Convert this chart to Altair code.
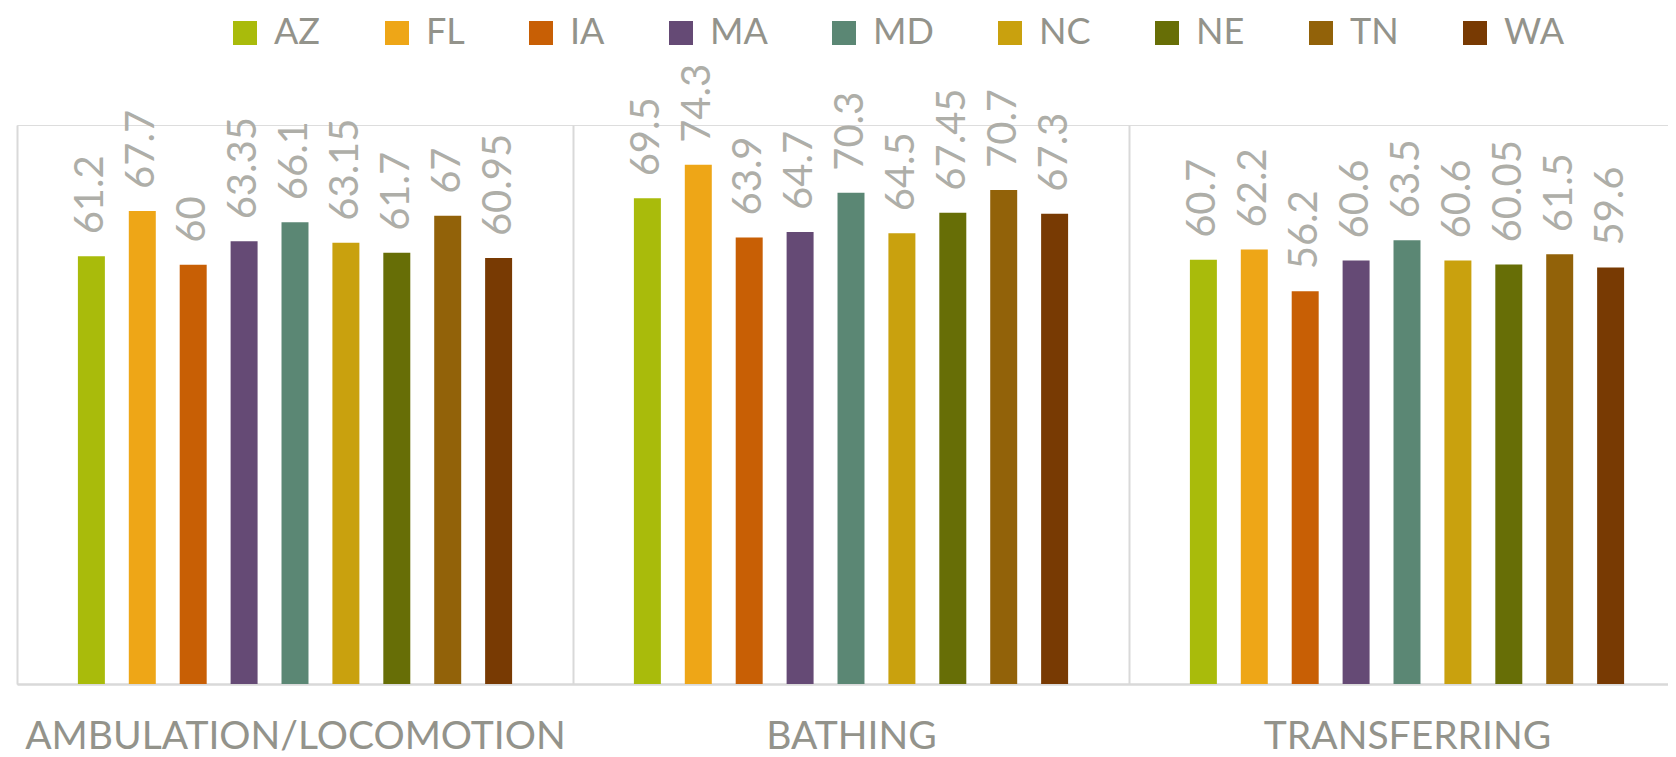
import altair as alt
import pandas as pd

categories = ["AMBULATION/LOCOMOTION", "BATHING", "TRANSFERRING"]
states = ["AZ", "FL", "IA", "MA", "MD", "NC", "NE", "TN", "WA"]
ambulation = [61.2, 67.7, 60, 63.35, 66.1, 63.15, 61.7, 67, 60.95]
bathing = [69.5, 74.3, 63.9, 64.7, 70.3, 64.5, 67.45, 70.7, 67.3]
transferring = [60.7, 62.2, 56.2, 60.6, 63.5, 60.6, 60.05, 61.5, 59.6]
colors = ["#A9BB0B", "#EEA617", "#C85F05", "#654A75", "#5B8774",
          "#C9A10E", "#676E06", "#926209", "#783A03"]

rows = []
for cat, vals in zip(categories, [ambulation, bathing, transferring]):
    for s, v in zip(states, vals):
        rows.append({"category": cat, "state": s, "value": v, "label": f"{v:g}"})
df = pd.DataFrame(rows)

FONT = "Lato"

x_enc = alt.X(
    "category:N", sort=categories,
    scale=alt.Scale(range=[0, 1668], paddingInner=0, paddingOuter=0),
    axis=alt.Axis(title=None, ticks=False, labelAngle=0, tickBand="extent",
                  grid=True, gridColor="#D9D9D9", gridWidth=2,
                  domainColor="#D9D9D9", domainWidth=2.5,
                  labelFont=FONT, labelFontSize=39, labelColor="#93938B",
                  labelBaseline="alphabetic", labelPadding=64, labelLimit=0),
)
xo_enc = alt.XOffset("state:N", sort=states,
                     scale=alt.Scale(range=[10, 546], paddingInner=0.47, paddingOuter=1.0))
y_enc = alt.Y("value:Q", scale=alt.Scale(domain=[0, 80]), axis=None)

bars = alt.Chart(df).mark_bar().encode(
    x=x_enc, xOffset=xo_enc, y=y_enc,
    color=alt.Color("state:N", sort=states,
                    scale=alt.Scale(domain=states, range=colors),
                    legend=alt.Legend(orient="none", legendX=210, legendY=-110,
                                      direction="horizontal", columns=9, title=None,
                                      symbolType="square", symbolSize=576,
                                      symbolStrokeWidth=0, labelFont=FONT,
                                      labelFontSize=36, labelColor="#93938B",
                                      labelOffset=11, columnPadding=58, padding=0)),
)

labels = alt.Chart(df).mark_text(
    angle=270, align="left", baseline="middle", dx=22,
    font=FONT, fontSize=40, color="#AEAEA8",
).encode(x=x_enc, xOffset=xo_enc, y=y_enc, text="label:N")

chart = (bars + labels).properties(
    width=1651, height=559,
    autosize=alt.AutoSizeParams(type="none"),
    padding={"left": 9, "top": 117, "right": 0, "bottom": 73},
).configure_view(stroke=None).configure(background="white")

chart.save("out.html", embed_options={"renderer": "svg", "actions": False})
